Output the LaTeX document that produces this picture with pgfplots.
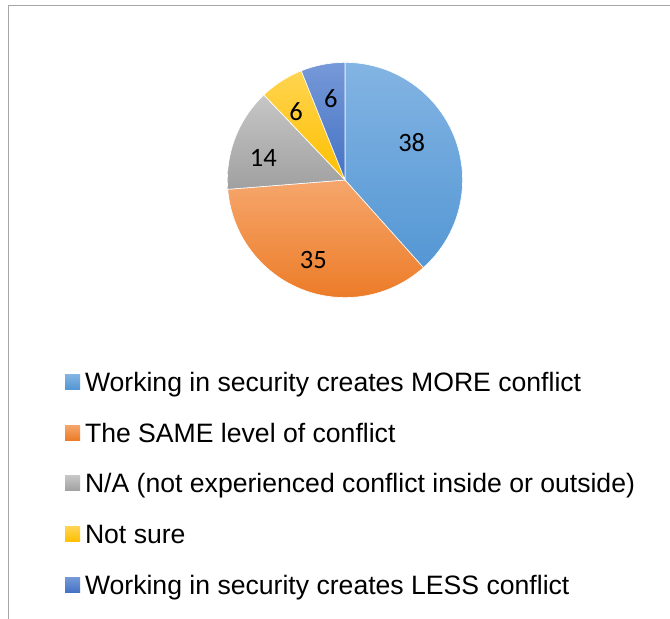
\documentclass[border=0pt]{standalone}
\usepackage{pgfplots}
\usepackage{pgfplotstable}
\pgfplotsset{compat=1.18}
\usepackage{fontspec}
\setmainfont{Liberation Sans}
\newfontfamily\carlito{Carlito}

\definecolor{blueT}{RGB}{131,180,227}
\definecolor{blueB}{RGB}{84,151,212}
\definecolor{orangeT}{RGB}{246,166,108}
\definecolor{orangeB}{RGB}{236,124,40}
\definecolor{grayT}{RGB}{198,198,198}
\definecolor{grayB}{RGB}{160,160,160}
\definecolor{yellowT}{RGB}{255,212,80}
\definecolor{yellowB}{RGB}{255,192,0}
\definecolor{dblueT}{RGB}{118,153,216}
\definecolor{dblueB}{RGB}{68,114,196}
\definecolor{frame}{RGB}{166,166,166}

\pgfplotstableread{
value
38
35
14
6
6
}\piedata

\begin{document}
\begin{tikzpicture}
\pgfplotstablegetelem{0}{value}\of\piedata\pgfmathsetmacro\va{\pgfplotsretval}
\pgfplotstablegetelem{1}{value}\of\piedata\pgfmathsetmacro\vb{\pgfplotsretval}
\pgfplotstablegetelem{2}{value}\of\piedata\pgfmathsetmacro\vc{\pgfplotsretval}
\pgfplotstablegetelem{3}{value}\of\piedata\pgfmathsetmacro\vd{\pgfplotsretval}
\pgfplotstablegetelem{4}{value}\of\piedata\pgfmathsetmacro\ve{\pgfplotsretval}
\pgfmathsetmacro\total{\va+\vb+\vc+\vd+\ve}
\pgfmathsetmacro\aA{90}
\pgfmathsetmacro\aB{\aA-360*\va/\total}
\pgfmathsetmacro\aC{\aB-360*\vb/\total}
\pgfmathsetmacro\aD{\aC-360*\vc/\total}
\pgfmathsetmacro\aE{\aD-360*\vd/\total}
\pgfmathsetmacro\aF{\aE-360*\ve/\total}
\def\cx{345}
\def\cy{-180}
\def\R{117.6}
\useasboundingbox (0,0) rectangle (670bp,619bp);
\begin{axis}[
  at={(0,0)}, anchor=south west,
  width=670bp, height=619bp, scale only axis,
  xmin=0, xmax=670, ymin=-619, ymax=0,
  hide axis, clip=false,
  legend image code/.code={\path[#1,draw=none] (0bp,-7.5bp) rectangle (15bp,7.5bp);},
  legend cell align=left,
  legend style={at={(axis cs:65,-372.3)}, anchor=north west, draw=none, fill=none,
    inner sep=0pt, outer sep=0pt, row sep=31.75bp,
    font=\fontsize{26.6bp}{30bp}\selectfont,
    /tikz/every odd column/.append style={column sep=2bp},
    nodes={inner ysep=0pt, inner xsep=3bp, text height=19bp, text depth=0pt}},
]
\draw[frame, line width=1bp] (axis cs:8,-619) -- (axis cs:8,-6) -- (axis cs:670,-6);
\addplot[draw=white, line width=0.6bp, top color=blueT, bottom color=blueB, domain=\aB:\aA, samples=120, variable=\t]
  ({\cx+\R*cos(\t)},{\cy+\R*sin(\t)}) -- (axis cs:\cx,\cy) -- cycle;
\addlegendentry{Working in security creates MORE conflict}
\addplot[draw=white, line width=0.6bp, top color=orangeT, bottom color=orangeB, domain=\aC:\aB, samples=120, variable=\t]
  ({\cx+\R*cos(\t)},{\cy+\R*sin(\t)}) -- (axis cs:\cx,\cy) -- cycle;
\addlegendentry{The SAME level of conflict}
\addplot[draw=white, line width=0.6bp, top color=grayT, bottom color=grayB, domain=\aD:\aC, samples=60, variable=\t]
  ({\cx+\R*cos(\t)},{\cy+\R*sin(\t)}) -- (axis cs:\cx,\cy) -- cycle;
\addlegendentry{N/A (not experienced conflict inside or outside)}
\addplot[draw=white, line width=0.6bp, top color=yellowT, bottom color=yellowB, domain=\aE:\aD, samples=30, variable=\t]
  ({\cx+\R*cos(\t)},{\cy+\R*sin(\t)}) -- (axis cs:\cx,\cy) -- cycle;
\addlegendentry{Not sure}
\addplot[draw=white, line width=0.6bp, top color=dblueT, bottom color=dblueB, domain=\aF:\aE, samples=30, variable=\t]
  ({\cx+\R*cos(\t)},{\cy+\R*sin(\t)}) -- (axis cs:\cx,\cy) -- cycle;
\addlegendentry{Working in security creates LESS conflict}
\begin{scope}[every node/.style={font=\carlito\fontsize{26.5bp}{30bp}\selectfont, inner sep=0pt}]
\node at (axis cs:411.7,-142.9) {38};
\node at (axis cs:313.3,-260) {35};
\node at (axis cs:263.3,-157.5) {14};
\node at (axis cs:296,-112) {6};
\node at (axis cs:330.8,-99) {6};
\end{scope}
\end{axis}
\end{tikzpicture}
\end{document}
